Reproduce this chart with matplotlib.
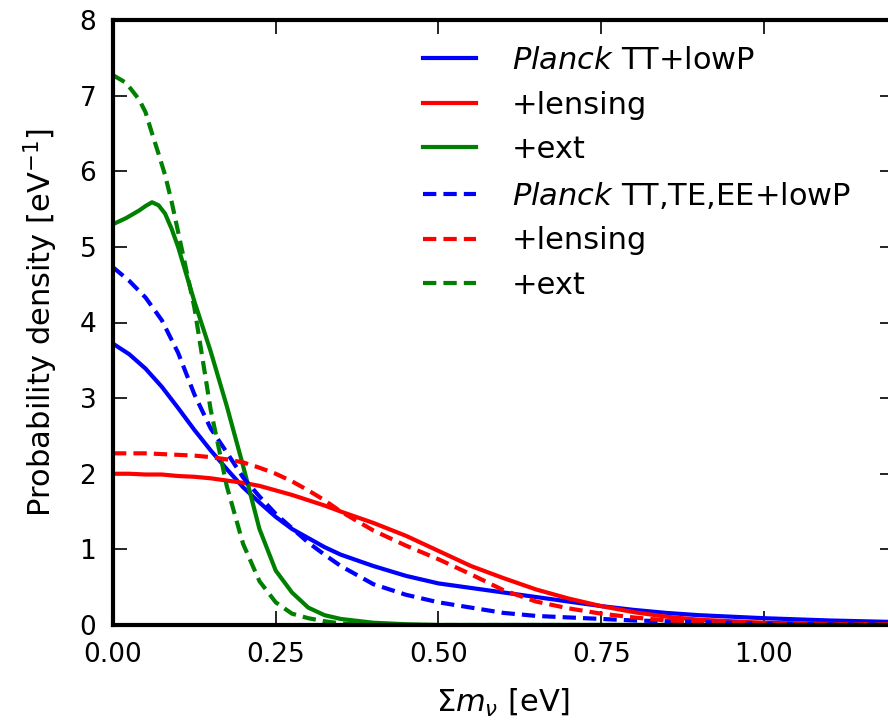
import matplotlib
matplotlib.use("Agg")
import matplotlib.pyplot as plt

# shared grid of sum of neutrino masses [eV]
mnu = [0.0, 0.025, 0.05, 0.075, 0.1, 0.125, 0.15, 0.175, 0.2, 0.225, 0.25,
       0.275, 0.3, 0.325, 0.35, 0.4, 0.45, 0.5, 0.55, 0.6, 0.65, 0.7, 0.75,
       0.8, 0.85, 0.9, 1.0, 1.1, 1.2]

tt_lowp = [3.72, 3.58, 3.39, 3.15, 2.87, 2.58, 2.31, 2.06, 1.82, 1.62, 1.43,
           1.27, 1.15, 1.03, 0.93, 0.78, 0.65, 0.55, 0.49, 0.43, 0.37, 0.31, 0.25,
           0.2, 0.16, 0.13, 0.09, 0.06, 0.04]
tt_lens = [2.0, 2.0, 1.99, 1.99, 1.97, 1.96, 1.94, 1.91, 1.88, 1.84, 1.78,
           1.72, 1.65, 1.58, 1.5, 1.35, 1.18, 0.98, 0.78, 0.62, 0.47, 0.35, 0.25,
           0.17, 0.11, 0.07, 0.03, 0.015, 0.01]
all_lowp = [4.73, 4.55, 4.33, 4.03, 3.6, 3.05, 2.6, 2.28, 1.95, 1.7, 1.47,
            1.28, 1.09, 0.93, 0.78, 0.54, 0.4, 0.3, 0.23, 0.16, 0.12, 0.1, 0.08,
            0.06, 0.05, 0.04, 0.02, 0.01, 0.01]
all_lens = [2.27, 2.27, 2.27, 2.26, 2.25, 2.24, 2.22, 2.19, 2.15, 2.08, 2.0,
            1.9, 1.78, 1.65, 1.5, 1.25, 1.05, 0.87, 0.67, 0.46, 0.31, 0.22, 0.15,
            0.1, 0.06, 0.04, 0.02, 0.01, 0.005]

# finer grid for the steep "+ext" curves
mnu_ext = [0.0, 0.02, 0.04, 0.05, 0.06, 0.07, 0.08, 0.09, 0.1, 0.125, 0.15,
           0.175, 0.2, 0.225, 0.25, 0.275, 0.3, 0.325, 0.35, 0.4, 0.45, 0.5, 1.2]
tt_ext = [5.3, 5.38, 5.48, 5.54, 5.59, 5.55, 5.44, 5.24, 5.0, 4.28, 3.62,
          2.89, 2.1, 1.27, 0.72, 0.43, 0.23, 0.13, 0.08, 0.03, 0.01, 0.0, 0.0]
all_ext = [7.27, 7.17, 6.95, 6.78, 6.5, 6.23, 5.95, 5.6, 5.2, 4.2, 2.85,
           1.83, 1.07, 0.58, 0.3, 0.15, 0.09, 0.05, 0.02, 0.0, 0.0, 0.0, 0.0]

labels = [r"$\mathit{Planck}$ TT+lowP", "+lensing", "+ext",
          r"$\mathit{Planck}$ TT,TE,EE+lowP", "+lensing", "+ext"]
colors = ["#0000ff", "#ff0000", "#008000"]
xticks = [0.0, 0.25, 0.5, 0.75, 1.0]
yticks = [0, 1, 2, 3, 4, 5, 6, 7, 8]

plt.rcParams['font.family'] = ['DejaVu Sans']
plt.rcParams['mathtext.fontset'] = 'dejavusans'

W, H = 888, 724
fig = plt.figure(figsize=(W / 100, H / 100), dpi=100)
ax = fig.add_axes([113 / W, 1 - 625 / H, (894 - 113) / W, (625 - 20) / H])

solid = [(mnu, tt_lowp), (mnu, tt_lens), (mnu_ext, tt_ext)]
dashed = [(mnu, all_lowp), (mnu, all_lens), (mnu_ext, all_ext)]
lines = []
for (xs, ys), c, lab in zip(solid, colors, labels[:3]):
    l, = ax.plot(xs, ys, color=c, lw=3, label=lab, solid_joinstyle='round')
    lines.append(l)
for (xs, ys), c, lab in zip(dashed, colors, labels[3:]):
    l, = ax.plot(xs, ys, color=c, lw=3, ls=(0, (3.2, 1.7)), label=lab)
    lines.append(l)

ax.set_xlim(0, 1.2)
ax.set_ylim(0, 8)
ax.set_xticks(xticks)
ax.set_xticklabels([f"{v:.2f}" for v in xticks])
ax.set_yticks(yticks)
for s in ax.spines.values():
    s.set_linewidth(3)
ax.tick_params(direction='in', length=10, width=1.2, top=True, right=True,
               labelsize=19, pad=12)

ax.set_ylabel(r"Probability density [eV$^{-1}$]", fontsize=22, labelpad=14)
ax.set_xlabel(r"$\Sigma m_\nu$ [eV]", fontsize=22, labelpad=14)

ax.legend(handles=lines, loc='upper left', frameon=False,
          bbox_to_anchor=(423 / W, 1 - 46 / H), bbox_transform=fig.transFigure,
          borderpad=0, borderaxespad=0, fontsize=22,
          handlelength=1.75, handletextpad=1.15, labelspacing=0.51)

fig.savefig("out.png", dpi=100)
